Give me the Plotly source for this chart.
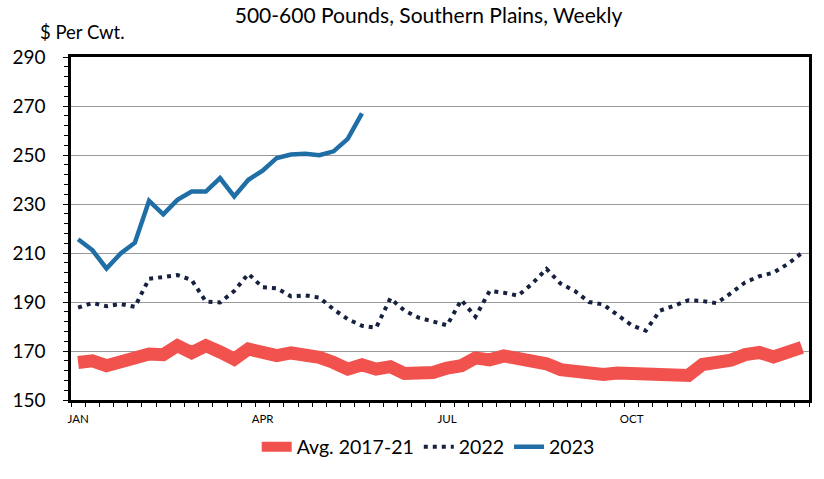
import plotly.graph_objects as go

weeks = list(range(1, 53))

avg_2017_21 = [165.3, 166.0, 164.0, 166.0, 167.3, 168.8, 168.5, 172.2, 169.3, 172.2,
               169.6, 166.7, 170.8, 169.5, 168.1, 169.2, 168.8, 167.4, 165.3, 162.6,
               164.4, 162.6, 163.6, 160.8, 161.0, 161.2, 163.0, 164.0, 167.2, 166.4,
               168.0, 166.8, 166.4, 164.8, 162.4, 161.6, 160.2, 160.4, 161.0, 161.0,
               160.3, 160.2, 160.5, 160.0, 164.5, 164.9, 166.3, 168.5, 169.4, 167.6,
               169.2, 171.5]

y2022 = [187.7, 189.6, 188.3, 189.2, 188.0, 199.5, 200.2, 201.0, 199.0, 190.2,
         189.8, 194.5, 201.5, 196.0, 195.6, 192.3, 192.7, 191.8, 187.0, 183.0,
         180.3, 179.5, 191.5, 186.5, 183.6, 182.2, 180.5, 190.8, 184.0, 194.5,
         193.8, 192.6, 197.5, 203.5, 197.5, 194.5, 190.0, 189.0, 184.5, 180.5,
         178.3, 186.5, 188.5, 190.7, 190.4, 189.5, 193.6, 198.0, 200.5, 202.0,
         205.5, 210.0]

y2023 = [215.6, 211.2, 203.7, 209.8, 214.2, 231.3, 225.8, 231.7, 235.1, 235.1,
         240.6, 233.1, 239.9, 243.6, 248.8, 250.2, 250.5, 249.9, 251.5, 256.6,
         267.0]

month_ticks = [1, 14, 27, 40]
month_labels = ["JAN", "APR", "JUL", "OCT"]
y_ticks = [150, 170, 190, 210, 230, 250, 270, 290]

FONT = "Lato"

fig = go.Figure()
fig.add_trace(go.Scatter(x=weeks, y=avg_2017_21, mode="lines", name="Avg. 2017-21",
                         line=dict(color="#F2524E", width=13)))
fig.add_trace(go.Scatter(x=weeks, y=y2022, mode="lines", name="2022",
                         line=dict(color="#16213F", width=4, dash="4px,5px")))
fig.add_trace(go.Scatter(x=weeks[:len(y2023)], y=y2023, mode="lines", name="2023",
                         line=dict(color="#1F6EA6", width=4.5)))

fig.update_layout(
    width=824, height=479,
    margin=dict(l=66, r=12, t=57, b=79),
    paper_bgcolor="white", plot_bgcolor="white",
    font=dict(family=FONT, color="black"),
    title=dict(text="500-600 Pounds, Southern Plains, Weekly", x=0.52, xanchor="center",
               y=1 - 16 / 479, yanchor="middle", font=dict(size=21, family=FONT)),
    showlegend=True,
    legend=dict(orientation="h", x=0.484, xanchor="center", y=-0.137, yanchor="middle",
                font=dict(size=19.5, family=FONT), itemwidth=30, tracegroupgap=0,
                bgcolor="rgba(0,0,0,0)"),
    annotations=[dict(text="$ Per Cwt.", xref="paper", yref="paper", x=-0.045, y=1.073,
                      xanchor="left", yanchor="middle", showarrow=False,
                      font=dict(size=18.5, family=FONT))],
)

fig.update_xaxes(
    range=[0.5, 52.5], tickmode="array", tickvals=month_ticks, ticktext=month_labels,
    ticks="", showgrid=False, zeroline=False,
    showline=True, linecolor="black", linewidth=2.5, mirror=True,
    tickfont=dict(size=11.5, family=FONT), ticklabelstandoff=6,
    minor=dict(tickmode="linear", tick0=0.5, dtick=1, ticks="outside", ticklen=4,
               tickcolor="black", tickwidth=1, showgrid=False),
)
fig.update_yaxes(
    range=[150, 290], tickmode="array", tickvals=y_ticks,
    ticks="outside", ticklen=5, tickcolor="black", tickwidth=1,
    showgrid=True, gridcolor="#9a9a9a", gridwidth=1, zeroline=False,
    showline=True, linecolor="black", linewidth=2.5, mirror=True,
    tickfont=dict(size=19, family=FONT), ticklabelstandoff=14,
    minor=dict(tickmode="linear", tick0=150, dtick=4, ticks="outside", ticklen=4,
               tickcolor="black", tickwidth=1, showgrid=False),
)

fig.write_html("out.html")
